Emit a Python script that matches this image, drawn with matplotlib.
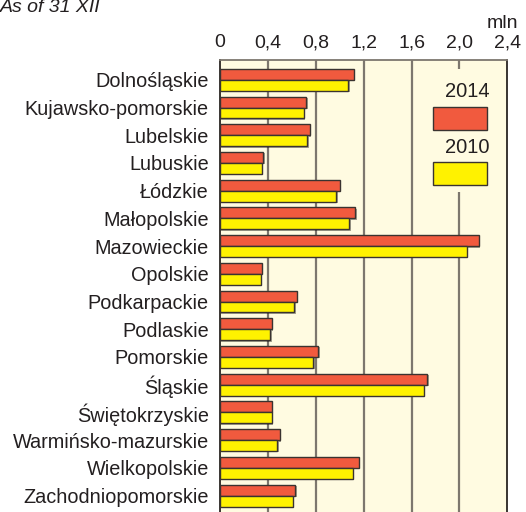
import numpy as np
import matplotlib.pyplot as plt
import matplotlib.patches as mpatches
import matplotlib.patheffects as pe

plt.rcParams['font.family'] = ['Liberation Sans', 'DejaVu Sans']

regions = ["Dolnośląskie", "Kujawsko-pomorskie", "Lubelskie", "Lubuskie",
           "Łódzkie", "Małopolskie", "Mazowieckie", "Opolskie",
           "Podkarpackie", "Podlaskie", "Pomorskie", "Śląskie",
           "Świętokrzyskie", "Warmińsko-mazurskie", "Wielkopolskie",
           "Zachodniopomorskie"]
v2014 = [1.12, 0.72, 0.75, 0.36, 1.00, 1.13, 2.16, 0.35,
         0.64, 0.43, 0.82, 1.73, 0.43, 0.50, 1.16, 0.63]
v2010 = [1.07, 0.70, 0.73, 0.35, 0.97, 1.08, 2.06, 0.34,
         0.62, 0.42, 0.78, 1.70, 0.43, 0.48, 1.11, 0.61]
ticks = [0, 0.4, 0.8, 1.2, 1.6, 2.0, 2.4]
tick_labels = ["0", "0,4", "0,8", "1,2", "1,6", "2,0", "2,4"]

red = "#f15a3e"
yellow = "#fff200"
cream = "#fffbe1"
grid = "#7d776e"
ink = "#231f20"

fig = plt.figure(figsize=(5.26, 5.12), dpi=100)
ax = fig.add_axes([0.4183, -0.0074, 0.5462, 0.8910])
ax.set_facecolor(cream)

y = np.arange(len(regions))
h = 0.395
shadow = [pe.SimplePatchShadow(offset=(1, -1), shadow_rgbFace="#000000", alpha=0.35), pe.Normal()]
ax.barh(y - h / 2, v2014, height=h, color=red, edgecolor="#3a3330", linewidth=1.0,
        zorder=3, path_effects=shadow)
ax.barh(y + h / 2, v2010, height=h, color=yellow, edgecolor="#3a3330", linewidth=1.0,
        zorder=3, path_effects=shadow)

ax.set_xlim(0, 2.4)
ax.set_ylim(15.73, -0.73)
ax.set_xticks(ticks)
ax.set_xticklabels(tick_labels)
ax.xaxis.tick_top()
ax.tick_params(axis="x", length=0, pad=6, labelsize=14, colors=ink)
ax.set_yticks(y)
ax.set_yticklabels(regions)
ax.tick_params(axis="y", length=0, pad=8, labelsize=14.3, colors=ink)
for t in ticks[1:-1]:
    ax.axvline(t, color=grid, linewidth=1.6, zorder=1)

for side in ["left", "right"]:
    ax.spines[side].set_color("#2a2522")
    ax.spines[side].set_linewidth(1.3)
ax.spines["top"].set_color(grid)
ax.spines["top"].set_linewidth(1.3)
ax.spines["bottom"].set_visible(False)

# legend box drawn over the grid in axes coordinates
ax.add_patch(mpatches.Rectangle((0.74, 0.71), 0.24, 0.27, transform=ax.transAxes,
                                facecolor=cream, edgecolor="none", zorder=2))
ax.text(0.862, 0.93, "2014", transform=ax.transAxes, ha="center", va="center",
        fontsize=14.5, color=ink, zorder=4)
ax.add_patch(mpatches.Rectangle((0.7425, 0.845), 0.187, 0.051, transform=ax.transAxes,
                                facecolor=red, edgecolor="#3a3330", linewidth=1.0, zorder=4))
ax.text(0.862, 0.808, "2010", transform=ax.transAxes, ha="center", va="center",
        fontsize=14.5, color=ink, zorder=4)
ax.add_patch(mpatches.Rectangle((0.7425, 0.725), 0.187, 0.051, transform=ax.transAxes,
                                facecolor=yellow, edgecolor="#3a3330", linewidth=1.0, zorder=4))

fig.text(0.985, 0.955, "mln", ha="right", va="center", fontsize=14, color=ink)
fig.text(0.0, 0.976, "As of 31 XII", ha="left", va="baseline", fontsize=14,
         style="italic", color=ink)

fig.savefig("out.png", dpi=100)
